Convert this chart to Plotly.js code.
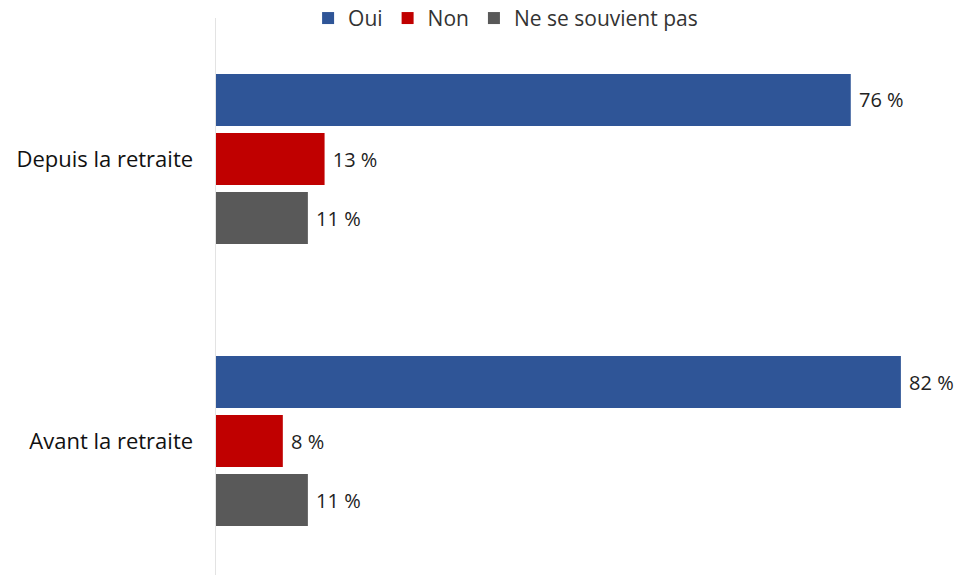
<!DOCTYPE html>
<html>
<head>
<meta charset="utf-8">
<script src="https://cdn.plot.ly/plotly-3.0.1.min.js"></script>
<style>html,body{margin:0;padding:0;background:#fff;}#chart{width:961px;height:575px;}</style>
</head>
<body>
<div id="chart"></div>
<script>
const categories = ["Avant la retraite", "Depuis la retraite"];
const seriesNames = ["Oui", "Non", "Ne se souvient pas"];
const oui = [82, 76];
const non = [8, 13];
const nesesouvientpas = [11, 11];
const colors = ["#2F5597", "#C00000", "#595959"];

const FONT = "Open Sans, Roboto, Liberation Sans, sans-serif";
const values = [oui, non, nesesouvientpas];
// add in reverse so "Oui" sits on top within each group
const traces = [];
for (let i = values.length - 1; i >= 0; i--) {
  traces.push({
    type: "bar",
    orientation: "h",
    name: seriesNames[i],
    y: categories,
    x: values[i],
    marker: {color: colors[i]},
    text: values[i].map(v => "\u00a0" + v + " %"),
    textposition: "outside",
    cliponaxis: false,
    textfont: {family: FONT, size: 20, color: "#222"},
    hoverinfo: "skip"
  });
}

const layout = {
  width: 961, height: 575,
  margin: {l: 216, r: 10, t: 18, b: 0, autoexpand: false},
  paper_bgcolor: "#fff", plot_bgcolor: "#fff",
  barmode: "group",
  bargap: 0.372,
  bargroupgap: 0.12,
  font: {family: FONT, size: 20, color: "#222"},
  xaxis: {range: [0, 88], showgrid: false, zeroline: false, showticklabels: false, showline: false, ticks: ""},
  yaxis: {range: [-0.475, 1.5], showgrid: false, zeroline: false, showline: true, linecolor: "#e3e3e3", linewidth: 1.5,
          ticks: "", ticklabelstandoff: 17, tickfont: {family: FONT, size: 22, color: "#111"}},
  showlegend: true,
  legend: {orientation: "h", x: 0.394, xanchor: "center", yref: "container", y: 0.968, yanchor: "middle", traceorder: "reversed",
           font: {family: FONT, size: 21, color: "#333"}, itemwidth: 30, bgcolor: "rgba(0,0,0,0)"}
};

Plotly.newPlot("chart", traces, layout, {displayModeBar: false, staticPlot: true});
</script>
</body>
</html>
